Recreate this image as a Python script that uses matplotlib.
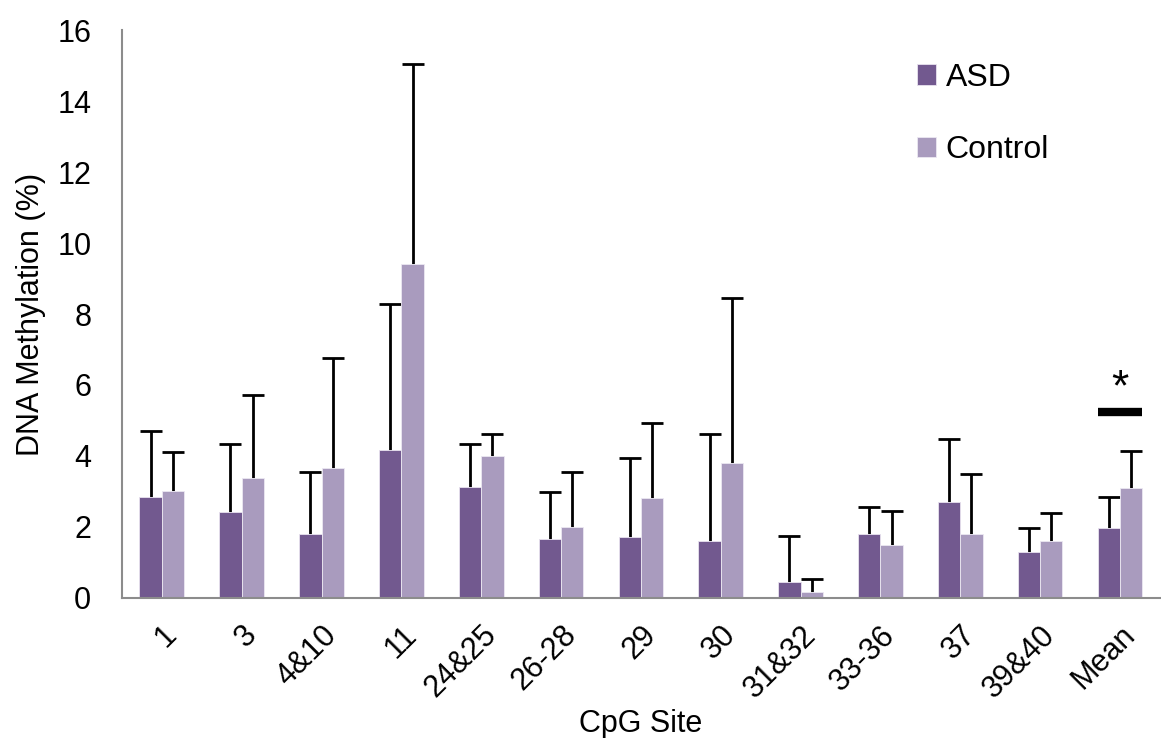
import matplotlib.pyplot as plt
import numpy as np

plt.rcParams['font.family'] = ['Liberation Sans', 'DejaVu Sans']

# methylation means and upper error (SD) per CpG site
sites = ['1', '3', '4&10', '11', '24&25', '26-28', '29', '30',
         '31&32', '33-36', '37', '39&40', 'Mean']
asd = [2.84, 2.43, 1.80, 4.18, 3.11, 1.66, 1.71, 1.59, 0.44, 1.79, 2.69, 1.28, 1.98]
asd_top = [4.69, 4.34, 3.56, 8.27, 4.34, 2.97, 3.93, 4.62, 1.73, 2.56, 4.48, 1.96, 2.85]
control = [3.00, 3.39, 3.66, 9.40, 3.99, 1.99, 2.80, 3.80, 0.16, 1.49, 1.79, 1.59, 3.09]
control_top = [4.11, 5.72, 6.76, 15.04, 4.63, 3.56, 4.93, 8.46, 0.54, 2.44, 3.50, 2.40, 4.14]

asd_err = np.array(asd_top) - np.array(asd)
control_err = np.array(control_top) - np.array(control)

dark = '#72598f'
light = '#a99bbe'

fig, ax = plt.subplots(figsize=(11.61, 7.38), dpi=100)
plt.subplots_adjust(left=0.105, right=0.999, bottom=0.19, top=0.959)

x = np.arange(len(sites))
w = 0.28
zeros = np.zeros(len(sites))
ax.bar(x - w / 2, asd, w, color=dark, edgecolor='#e8e2ef', linewidth=0.6, label='ASD', zorder=2)
ax.bar(x + w / 2, control, w, color=light, edgecolor='#ece8f2', linewidth=0.6, label='Control', zorder=2)

# upward-only error bars: hide the cap sitting on the bar top
for xs, vals, err in [(x - w / 2, asd, asd_err), (x + w / 2, control, control_err)]:
    _, caps, _ = ax.errorbar(xs, vals, yerr=[zeros, err], fmt='none', ecolor='black',
                             elinewidth=2, capsize=8, capthick=2, zorder=1)
    caps[0].set_visible(False)

# significance marker over the mean pair
ax.plot([x[-1] - w, x[-1] + w], [5.24, 5.24], color='black', linewidth=6, solid_capstyle='butt')
ax.text(x[-1], 5.3, '*', ha='center', va='bottom', fontsize=32)

ax.set_xlim(-0.5, len(sites) - 0.5)
ax.set_ylim(0, 16)
ax.set_yticks(np.arange(0, 17, 2))
ax.set_xticks(x)
ax.set_xticklabels(sites, rotation=45, ha='right', rotation_mode='anchor')
ax.tick_params(axis='both', length=0, labelsize=22)
ax.tick_params(axis='y', pad=22)
ax.tick_params(axis='x', pad=16)

for s in ['top', 'right']:
    ax.spines[s].set_visible(False)
for s in ['left', 'bottom']:
    ax.spines[s].set_color('#8c8c8c')
    ax.spines[s].set_linewidth(1.5)

ax.set_ylabel('DNA Methylation (%)', fontsize=22, labelpad=8)
ax.set_xlabel('CpG Site', fontsize=22, labelpad=4)

ax.legend(loc='upper left', bbox_to_anchor=(0.765, 0.954), bbox_transform=fig.transFigure,
          frameon=False, fontsize=23, handlelength=0.6, handleheight=0.6,
          handletextpad=0.3, labelspacing=1.33)

plt.savefig('out.png', dpi=100)
plt.close(fig)
